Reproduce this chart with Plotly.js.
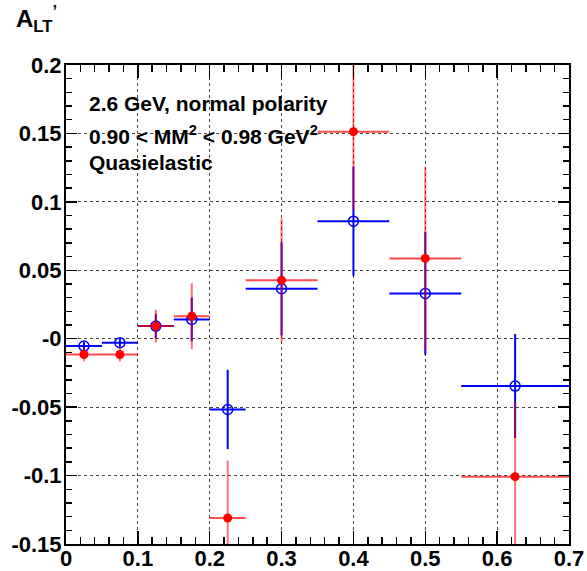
<!DOCTYPE html>
<html>
<head>
<meta charset="utf-8">
<script src="https://cdn.plot.ly/plotly-3.0.1.min.js"></script>
<style>html,body{margin:0;padding:0;background:#fff;}#chart{width:587px;height:571px;}</style>
</head>
<body>
<div id="chart"></div>
<script>
// Bin centres and half-widths
const xBins = [0.025, 0.075, 0.125, 0.175, 0.225, 0.3, 0.4, 0.5, 0.625];
const xHalfWidth = [0.025, 0.025, 0.025, 0.025, 0.025, 0.05, 0.05, 0.05, 0.075];
// Blue (open circles)
const blueY = [-0.0054, -0.0029, 0.0092, 0.0141, -0.0517, 0.0365, 0.0859, 0.0331, -0.0346];
const blueErr = [0.003, 0.003, 0.009, 0.016, 0.029, 0.034, 0.040, 0.045, 0.038];
// Red (filled circles)
const redY = [-0.0115, -0.0115, 0.0092, 0.0165, -0.131, 0.0428, 0.1513, 0.0587, -0.1008];
const redErr = [0.005, 0.005, 0.012, 0.024, 0.042, 0.045, 0.057, 0.067, 0.055];
// Axis ticks
const xTickVals = [0, 0.1, 0.2, 0.3, 0.4, 0.5, 0.6, 0.7];
const xTickText = ["0", "0.1", "0.2", "0.3", "0.4", "0.5", "0.6", "0.7"];
const yTickVals = [-0.15, -0.1, -0.05, 0, 0.05, 0.1, 0.15, 0.2];
const yTickText = ["-0.15", "-0.1", "-0.05", "-0", "0.05", "0.1", "0.15", "0.2"];

const FONT = "Liberation Sans, Arial, Helvetica, sans-serif";

const blue = {
  x: xBins, y: blueY, type: 'scatter', mode: 'markers', cliponaxis: true,
  marker: {symbol: 'circle-open', size: 10, color: '#0000ff', line: {width: 1.5, color: '#0000ff'}},
  error_x: {type: 'data', array: xHalfWidth, color: '#0000ff', thickness: 2, width: 0},
  error_y: {type: 'data', array: blueErr, color: '#0000ff', thickness: 2, width: 0},
  showlegend: false
};
const red = {
  x: xBins, y: redY, type: 'scatter', mode: 'markers', cliponaxis: true,
  marker: {symbol: 'circle', size: 9, color: '#ff0000'},
  error_x: {type: 'data', array: xHalfWidth, color: 'rgba(255,0,0,0.7)', thickness: 2, width: 0},
  error_y: {type: 'data', array: redErr, color: 'rgba(255,0,0,0.55)', thickness: 2, width: 0},
  showlegend: false
};

const axisCommon = {
  showline: true, linecolor: '#000', linewidth: 2, mirror: 'allticks',
  ticks: 'inside', tickcolor: '#000', tickwidth: 1.5,
  showgrid: true, gridcolor: '#444', gridwidth: 1, griddash: 'dot',
  zeroline: false,
  tickfont: {family: FONT, size: 22, color: '#000', weight: 'bold'},
  tickmode: 'array'
};

const layout = {
  width: 587, height: 571,
  margin: {l: 66, r: 18, t: 65, b: 27},
  paper_bgcolor: '#fff', plot_bgcolor: '#fff',
  xaxis: Object.assign({}, axisCommon, {
    range: [0, 0.7], tickvals: xTickVals, ticktext: xTickText, ticklen: 13,
    ticklabelstandoff: -6,
    minor: {ticks: 'inside', dtick: 0.02, tick0: 0, ticklen: 7, tickcolor: '#000', showgrid: false}
  }),
  yaxis: Object.assign({}, axisCommon, {
    range: [-0.15, 0.2], tickvals: yTickVals, ticktext: yTickText, ticklen: 11,
    ticklabelstandoff: -2,
    minor: {ticks: 'inside', dtick: 0.01, tick0: 0, ticklen: 6, tickcolor: '#000', showgrid: false}
  }),
  annotations: [
    {xref: 'paper', yref: 'paper', x: -0.103, y: 1.135, xanchor: 'left', yanchor: 'top', showarrow: false,
     text: "A<sub>LT</sub><sup>’</sup>", font: {family: FONT, size: 24, color: '#000', weight: 'bold'}},
    {xref: 'paper', yref: 'paper', x: 0.042, y: 0.92, xanchor: 'left', yanchor: 'middle', showarrow: false,
     text: "2.6 GeV, normal polarity", font: {family: FONT, size: 21, color: '#000', weight: 'bold'}},
    {xref: 'paper', yref: 'paper', x: 0.042, y: 0.854, xanchor: 'left', yanchor: 'middle', showarrow: false,
     text: "0.90 &lt; MM<sup>2</sup> &lt; 0.98 GeV<sup>2</sup>", font: {family: FONT, size: 21, color: '#000', weight: 'bold'}},
    {xref: 'paper', yref: 'paper', x: 0.042, y: 0.797, xanchor: 'left', yanchor: 'middle', showarrow: false,
     text: "Quasielastic", font: {family: FONT, size: 21, color: '#000', weight: 'bold'}}
  ]
};

Plotly.newPlot('chart', [blue, red], layout, {displayModeBar: false, staticPlot: true});
</script>
</body>
</html>
